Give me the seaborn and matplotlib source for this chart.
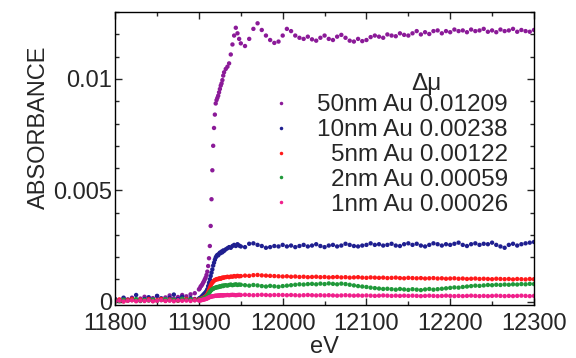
import numpy as np
import pandas as pd
import matplotlib
matplotlib.use('Agg')
import matplotlib.pyplot as plt
import seaborn as sns
from matplotlib.ticker import MultipleLocator, FuncFormatter

# energy grid (eV): 5 eV steps before the edge, 1 eV across it, then 2 eV and 5 eV
energy = np.concatenate([np.arange(11800, 11900, 5), np.arange(11900, 11931, 1),
                         np.arange(11932, 11949, 2), np.arange(11950, 12301, 5)])

# absorbance in units of 1e-3 (pre-edge 20 | edge 31 | 9 | post-edge 71)
au50 = [0.12, 0.08, 0.15, 0.10, 0.18, 0.09, 0.14, 0.22, 0.11, 0.16,
        0.25, 0.13, 0.19, 0.28, 0.15, 0.21, 0.30, 0.24, 0.33, 0.38,
        0.55, 0.60, 0.68, 0.72, 0.78, 0.85, 0.92, 1.00, 1.08, 1.20,
        1.35, 1.60, 1.95, 2.50, 3.40, 4.60, 5.90, 7.00, 7.80, 8.40,
        8.90, 9.05, 9.15, 9.25, 9.40, 9.55, 9.70, 9.80, 9.95, 10.15,
        10.30,
        10.45, 10.55, 10.70, 11.10, 11.55, 11.95, 12.30, 12.05, 11.80,
        11.60, 11.48, 11.80, 12.25, 12.50, 12.20, 11.95, 11.75, 11.62, 11.68,
        11.95, 12.25, 12.15, 11.95, 11.85, 11.80, 11.90, 11.78, 11.72, 11.85,
        11.95, 11.80, 11.75, 11.90, 11.98, 11.85, 11.72, 11.68, 11.80, 11.70,
        11.75, 11.88, 11.95, 11.90, 11.85, 12.00, 11.95, 11.92, 12.05, 11.98,
        11.95, 12.05, 12.15, 12.00, 12.10, 12.02, 12.15, 12.18, 12.05, 12.15,
        12.10, 12.22, 12.15, 12.18, 12.10, 12.22, 12.15, 12.18, 12.25, 12.12,
        12.18, 12.10, 12.22, 12.15, 12.18, 12.25, 12.12, 12.20, 12.15, 12.12,
        12.20]

au10 = [0.10, 0.05, 0.18, 0.08, 0.14, 0.30, 0.06, 0.12, 0.20, 0.09,
        0.26, 0.15, 0.07, 0.18, 0.32, 0.12, 0.22, 0.10, 0.16, 0.12,
        0.14, 0.16, 0.18, 0.22, 0.26, 0.30, 0.34, 0.38, 0.42, 0.48,
        0.56, 0.70, 0.85, 1.00, 1.15, 1.30, 1.45, 1.62, 1.75, 1.88,
        1.98, 2.05, 2.10, 2.08, 2.15, 2.20, 2.18, 2.25, 2.22, 2.30,
        2.28,
        2.35, 2.40, 2.45, 2.42, 2.50, 2.55, 2.50, 2.58, 2.52,
        2.48, 2.45, 2.60, 2.62, 2.55, 2.50, 2.42, 2.45, 2.50, 2.48,
        2.55, 2.48, 2.52, 2.45, 2.50, 2.55, 2.48, 2.52, 2.58, 2.50,
        2.45, 2.52, 2.55, 2.48, 2.52, 2.60, 2.55, 2.50, 2.48, 2.52,
        2.55, 2.62, 2.55, 2.58, 2.52, 2.55, 2.60, 2.52, 2.50, 2.58,
        2.62, 2.55, 2.60, 2.52, 2.48, 2.55, 2.62, 2.58, 2.52, 2.58,
        2.55, 2.60, 2.65, 2.55, 2.50, 2.58, 2.62, 2.55, 2.60, 2.58,
        2.65, 2.55, 2.48, 2.42, 2.55, 2.60, 2.52, 2.58, 2.62, 2.65,
        2.68]

au5 = [0.05, 0.10, 0.02, 0.08, 0.12, 0.04, 0.09, 0.06, 0.11, 0.03,
       0.08, 0.12, 0.05, 0.10, 0.07, 0.04, 0.09, 0.12, 0.08, 0.10,
       0.10, 0.11, 0.12, 0.13, 0.15, 0.17, 0.19, 0.21, 0.24, 0.28,
       0.34, 0.42, 0.52, 0.62, 0.72, 0.80, 0.86, 0.90, 0.94, 0.97,
       0.99, 1.00, 1.02, 1.01, 1.04, 1.05, 1.03, 1.06, 1.08, 1.07,
       1.09,
       1.10, 1.12, 1.10, 1.13, 1.12, 1.15, 1.13, 1.16, 1.14,
       1.15, 1.17, 1.16, 1.19, 1.20, 1.18, 1.17, 1.16, 1.15, 1.14,
       1.13, 1.14, 1.12, 1.13, 1.11, 1.12, 1.10, 1.11, 1.12, 1.10,
       1.11, 1.09, 1.10, 1.11, 1.09, 1.10, 1.08, 1.09, 1.10, 1.08,
       1.07, 1.09, 1.08, 1.07, 1.08, 1.06, 1.07, 1.08, 1.06, 1.05,
       1.07, 1.06, 1.05, 1.06, 1.04, 1.05, 1.06, 1.04, 1.05, 1.03,
       1.04, 1.05, 1.03, 1.04, 1.02, 1.03, 1.04, 1.02, 1.03, 1.02,
       1.01, 1.03, 1.02, 1.01, 1.02, 1.00, 1.02, 1.01, 1.00, 1.02,
       1.01]

au2 = [0.06, 0.02, 0.09, 0.04, 0.07, 0.12, 0.03, 0.08, 0.05, 0.10,
       0.04, 0.07, 0.11, 0.06, 0.09, 0.05, 0.13, 0.08, 0.10, 0.07,
       0.08, 0.09, 0.10, 0.11, 0.12, 0.14, 0.16, 0.18, 0.20, 0.23,
       0.27, 0.32, 0.38, 0.44, 0.49, 0.53, 0.56, 0.58, 0.60, 0.62,
       0.63, 0.64, 0.66, 0.65, 0.67, 0.69, 0.68, 0.70, 0.72, 0.70,
       0.73,
       0.74, 0.72, 0.75, 0.77, 0.74, 0.76, 0.78, 0.75, 0.77,
       0.76, 0.74, 0.72, 0.75, 0.73, 0.70, 0.68, 0.71, 0.69, 0.67,
       0.70, 0.72, 0.74, 0.76, 0.78, 0.77, 0.79, 0.80, 0.78, 0.81,
       0.79, 0.82, 0.80, 0.78, 0.81, 0.79, 0.76, 0.73, 0.70, 0.68,
       0.66, 0.63, 0.61, 0.59, 0.57, 0.58, 0.56, 0.54, 0.57, 0.55,
       0.53, 0.56, 0.54, 0.52, 0.55, 0.57, 0.54, 0.56, 0.58, 0.60,
       0.62, 0.64, 0.63, 0.66, 0.68, 0.70, 0.72, 0.71, 0.73, 0.75,
       0.74, 0.76, 0.75, 0.77, 0.76, 0.78, 0.77, 0.79, 0.78, 0.80,
       0.79]

au1 = [0.02, 0.05, 0.01, 0.04, 0.06, 0.02, 0.05, 0.03, 0.06, 0.02,
       0.04, 0.07, 0.03, 0.05, 0.02, 0.06, 0.04, 0.05, 0.03, 0.06,
       0.05, 0.06, 0.06, 0.07, 0.08, 0.09, 0.10, 0.11, 0.12, 0.13,
       0.15, 0.17, 0.19, 0.21, 0.22, 0.23, 0.24, 0.25, 0.25, 0.26,
       0.27, 0.26, 0.27, 0.28, 0.27, 0.28, 0.29, 0.28, 0.29, 0.28,
       0.29,
       0.29, 0.30, 0.29, 0.30, 0.31, 0.30, 0.29, 0.30, 0.31,
       0.30, 0.31, 0.30, 0.29, 0.30, 0.31, 0.30, 0.29, 0.30, 0.30,
       0.30, 0.29, 0.30, 0.29, 0.28, 0.29, 0.30, 0.29, 0.28, 0.29,
       0.28, 0.29, 0.28, 0.27, 0.28, 0.29, 0.28, 0.27, 0.28, 0.27,
       0.28, 0.27, 0.26, 0.27, 0.28, 0.27, 0.26, 0.27, 0.26, 0.27,
       0.26, 0.27, 0.26, 0.25, 0.26, 0.27, 0.26, 0.25, 0.26, 0.27,
       0.26, 0.25, 0.26, 0.25, 0.26, 0.27, 0.26, 0.25, 0.26, 0.25,
       0.26, 0.27, 0.26, 0.25, 0.26, 0.25, 0.26, 0.27, 0.26, 0.25,
       0.26]

samples = ['50nm Au', '10nm Au', '5nm Au', '2nm Au', '1nm Au']
delta_mu = ['0.01209', '0.00238', '0.00122', '0.00059', '0.00026']
colors = ['#8b1a98', '#1f1f90', '#ff1a1a', '#20993a', '#f0208c']

labels = [f'{s} {d}' for s, d in zip(samples, delta_mu)]
df = pd.concat([pd.DataFrame({'eV': energy, 'absorbance': np.array(v) * 1e-3, 'sample': lab})
                for v, lab in zip([au50, au10, au5, au2, au1], labels)])

sns.set_style('ticks')
plt.rcParams['font.family'] = ['Liberation Sans', 'DejaVu Sans']

fig = plt.figure(figsize=(5.76, 3.58), dpi=100)
ax = fig.add_axes([0.2, 0.148, 0.727, 0.818])

sns.scatterplot(data=df, x='eV', y='absorbance', hue='sample', hue_order=labels,
                palette=dict(zip(labels, colors)), s=10, linewidth=0, ax=ax)

ax.set_xlim(11800, 12300)
ax.set_ylim(-0.00015, 0.0130)
ax.xaxis.set_major_locator(MultipleLocator(100))
ax.xaxis.set_minor_locator(MultipleLocator(50))
ax.yaxis.set_major_locator(MultipleLocator(0.005))
ax.yaxis.set_minor_locator(MultipleLocator(0.001))
ax.yaxis.set_major_formatter(FuncFormatter(lambda v, p: f'{v:g}'))
ax.tick_params(which='both', direction='in', top=True, right=True, labelsize=17, width=1)
ax.tick_params(which='major', length=5)
ax.tick_params(which='minor', length=3)
ax.tick_params(axis='x', pad=6)
ax.tick_params(axis='y', pad=2)
for sp in ax.spines.values():
    sp.set_color('black')
    sp.set_linewidth(1)

ax.set_xlabel('eV', fontsize=17)
ax.set_ylabel('ABSORBANCE', fontsize=17)
ax.xaxis.set_label_coords(0.5, -0.105)
ax.yaxis.set_label_coords(-0.155, 0.607)

handles, labs = ax.get_legend_handles_labels()
leg = ax.legend(handles, labs, loc='upper right', bbox_to_anchor=(0.938, 0.72),
                frameon=False, fontsize=17.5, borderpad=0, borderaxespad=0,
                labelspacing=0.12, handletextpad=0.6, handlelength=1.8,
                scatterpoints=1, numpoints=1, markerscale=0.8)
ax.text(0.742, 0.755, 'Δμ', transform=ax.transAxes, ha='center', va='center', fontsize=17.5)

# right-align legend labels
fig.canvas.draw()
renderer = fig.canvas.get_renderer()
widths = [t.get_window_extent(renderer).width for t in leg.get_texts()]
for t, w in zip(leg.get_texts(), widths):
    t.set_position((max(widths) - w, 0))

fig.savefig('out.png', dpi=100)
